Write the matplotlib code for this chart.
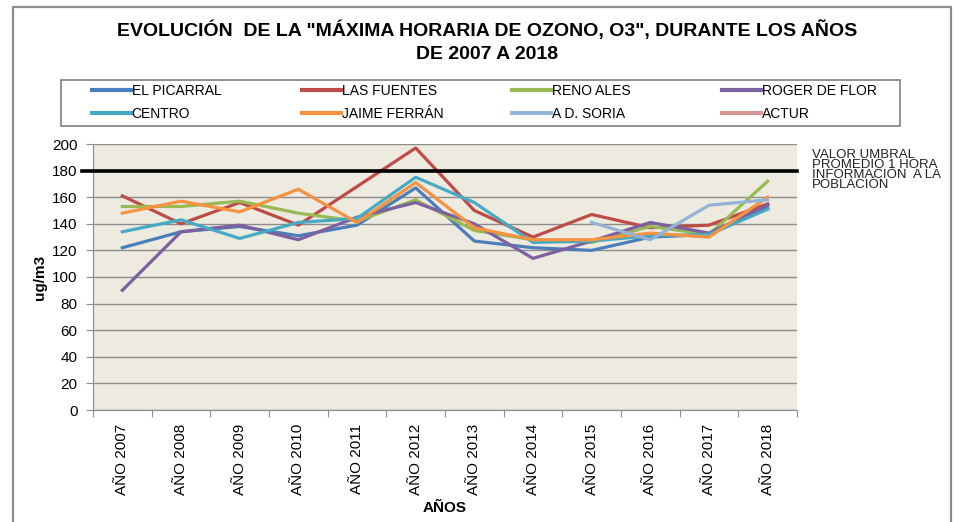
import numpy as np
import matplotlib
matplotlib.use('Agg')
from matplotlib import pyplot as plt
from matplotlib.patches import Rectangle

plt.rcParams['font.family'] = ['Liberation Sans', 'DejaVu Sans']

anios = ['AÑO 2007', 'AÑO 2008', 'AÑO 2009', 'AÑO 2010', 'AÑO 2011', 'AÑO 2012',
         'AÑO 2013', 'AÑO 2014', 'AÑO 2015', 'AÑO 2016', 'AÑO 2017', 'AÑO 2018']

nan = np.nan
el_picarral = [122, 134, 138, 131, 139, 167, 127, 122, 120, 130, 132, 152]
las_fuentes = [161, 140, 156, 139, 168, 197, 150, 130, 147, 137, 139, 155]
reno_ales = [153, 153, 157, 148, 142, 158, 135, 128, 126, 138, 132, 172]
roger_de_flor = [90, 134, 139, 128, 145, 156, 140, 114, 127, 141, 133, 154]
centro = [134, 143, 129, 141, 144, 175, 156, 126, 127, 131, 132, 151]
jaime_ferran = [148, 157, 149, 166, 141, 171, 137, 128, 128, 133, 130, 160]
ad_soria = [nan, nan, nan, nan, nan, nan, nan, nan, 141, 128, 154, 158]
actur = [nan] * 12
umbral = 180

series = [
    ('EL PICARRAL', el_picarral, '#4A7EBB'),
    ('LAS FUENTES', las_fuentes, '#BE4B48'),
    ('RENO ALES', reno_ales, '#98B954'),
    ('ROGER DE FLOR', roger_de_flor, '#7D60A0'),
    ('CENTRO', centro, '#46AAC5'),
    ('JAIME FERRÁN', jaime_ferran, '#F69240'),
    ('A D. SORIA', ad_soria, '#95B3D7'),
    ('ACTUR', actur, '#D99694'),
]

fig = plt.figure(figsize=(9.59, 5.22), dpi=100)
ax = fig.add_axes([93 / 959, 1 - 410 / 522, (797 - 93) / 959, (410 - 144) / 522])
ax.set_facecolor('#EDEAE0')

x = np.arange(len(anios))
handles = []
for nombre, valores, color in series:
    h, = ax.plot(x, valores, color=color, lw=2.3, label=nombre)
    handles.append(h)

# linea umbral de informacion
ax.axhline(umbral, xmin=-0.016, xmax=1, color='black', lw=2.6, clip_on=False, zorder=5)
fig.text(812 / 959, 1 - 149 / 522, 'VALOR UMBRAL\nPROMEDIO 1 HORA\nINFORMACIÓN  A LA\nPOBLACIÓN',
         fontsize=9.5, va='top', ha='left', linespacing=0.78, color='#222222')

ax.set_xlim(-0.5, 11.5)
ax.set_ylim(0, 200)
ax.set_yticks(range(0, 201, 20))
ax.yaxis.grid(True, color='#8C8C8C', lw=1)
ax.set_axisbelow(True)

ax.set_xticks(np.arange(-0.5, 12, 1))
ax.set_xticklabels([])
ax.set_xticks(x, minor=True)
ax.set_xticklabels(anios, minor=True, rotation=90, fontsize=11)
ax.tick_params(axis='x', which='minor', length=0, pad=10)
ax.tick_params(axis='x', which='major', length=5, color='#8C8C8C')
ax.tick_params(axis='y', length=5, color='#8C8C8C', labelsize=11, pad=6)

for lado in ['top', 'right']:
    ax.spines[lado].set_visible(False)
for lado in ['left', 'bottom']:
    ax.spines[lado].set_color('#8C8C8C')

ax.set_ylabel('ug/m3', fontsize=11, fontweight='bold', labelpad=4)
ax.set_xlabel('AÑOS', fontsize=11, fontweight='bold', labelpad=4)

fig.suptitle('EVOLUCIÓN  DE LA "MÁXIMA HORARIA DE OZONO, O3", DURANTE LOS AÑOS\nDE 2007 A 2018',
             x=487 / 959, y=1 - 20 / 522, fontsize=14, fontweight='bold', linespacing=1.45)

# leyenda: una columna por cada grupo de dos series, con marco comun
col_x = [92, 302, 512, 722]
for c in range(4):
    leg = fig.legend([handles[c], handles[c + 4]], [series[c][0], series[c + 4][0]],
                     loc='upper left', bbox_to_anchor=(col_x[c] / 959, 1 - 84 / 522),
                     fontsize=10, frameon=False, handlelength=2.8, handletextpad=0.05,
                     borderaxespad=0, borderpad=0, labelspacing=0.62)
    for l in leg.get_lines():
        l.set_linewidth(3)

fig.patches.append(Rectangle((61 / 959, 1 - 126 / 522), (900 - 61) / 959, 46 / 522,
                             transform=fig.transFigure, fill=False, edgecolor='#7F7F7F', lw=1.2))

# marco exterior del grafico
fig.patches.append(Rectangle((13 / 959, -0.05), (951 - 13) / 959, 1.05 - 7 / 522,
                             transform=fig.transFigure, fill=False, edgecolor='#8C8C8C', lw=1.6))

fig.savefig('out.png', dpi=100)
